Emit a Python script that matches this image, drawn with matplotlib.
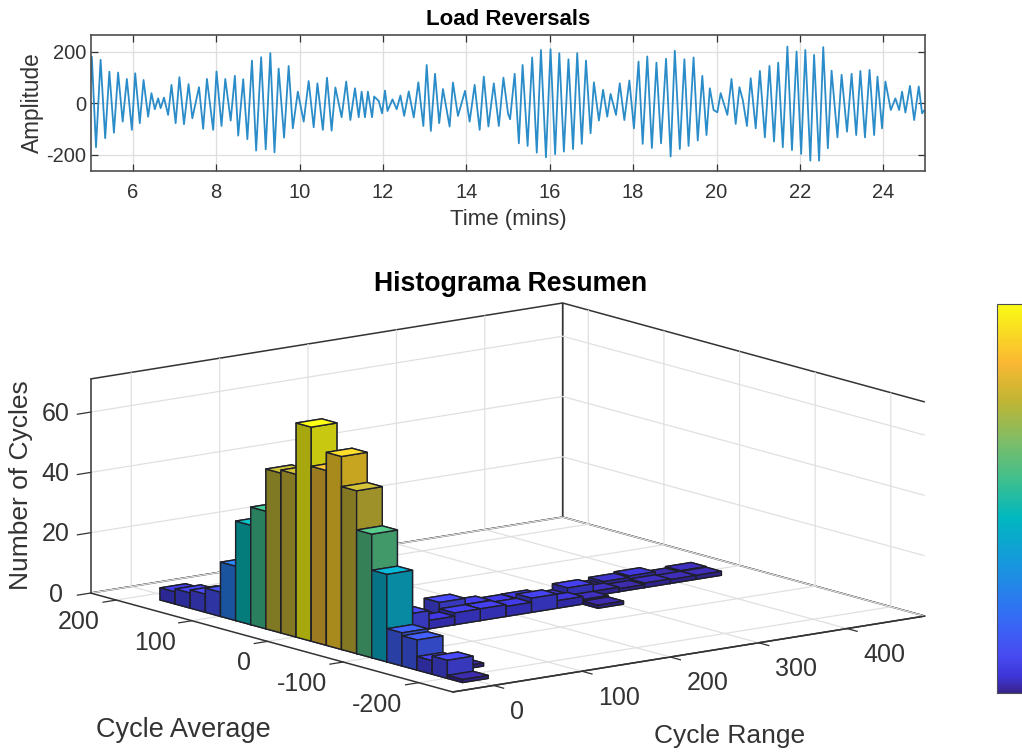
import numpy as np
import matplotlib
matplotlib.use('Agg')
import matplotlib.pyplot as plt
from matplotlib.colors import LinearSegmentedColormap, Normalize
from matplotlib.cm import ScalarMappable

plt.rcParams['font.family'] = ['Liberation Sans', 'DejaVu Sans']
plt.rcParams['axes.unicode_minus'] = False

# ---- Load reversals (turning points) ----
time_mins = [5.00,5.02,5.12,5.23,5.34,5.44,5.55,5.65,5.76,5.86,5.98,6.06,6.17,6.26,6.37,6.45,6.53,6.61,6.67,6.75,
 6.85,6.93,7.03,7.12,7.23,7.34,7.43,7.59,7.69,7.78,7.93,8.01,8.13,8.22,8.35,8.45,8.53,8.65,8.75,8.86,
 8.96,9.08,9.19,9.30,9.40,9.50,9.63,9.74,9.84,9.96,10.10,10.22,10.34,10.43,10.56,10.66,10.77,10.86,11.01,11.12,
 11.22,11.33,11.42,11.49,11.57,11.64,11.74,11.79,11.90,11.98,12.05,12.11,12.23,12.33,12.42,12.51,12.62,12.74,12.85,12.97,
 13.05,13.15,13.25,13.35,13.44,13.60,13.68,13.80,13.97,14.08,14.20,14.32,14.42,14.53,14.66,14.78,14.89,15.00,15.05,15.16,
 15.26,15.35,15.47,15.58,15.69,15.79,15.91,16.02,16.13,16.23,16.34,16.45,16.56,16.66,16.77,16.87,16.98,17.06,17.18,17.28,
 17.38,17.46,17.59,17.68,17.79,17.91,18.02,18.13,18.23,18.34,18.45,18.56,18.67,18.79,18.90,19.00,19.12,19.23,19.33,19.45,
 19.55,19.66,19.76,19.84,19.93,20.02,20.10,20.26,20.36,20.46,20.55,20.63,20.73,20.82,20.94,21.04,21.16,21.27,21.38,21.48,
 21.59,21.70,21.81,21.92,22.03,22.13,22.25,22.34,22.46,22.56,22.67,22.76,22.90,23.00,23.13,23.24,23.35,23.45,23.56,23.67,
 23.78,23.86,23.97,24.05,24.18,24.29,24.38,24.45,24.53,24.64,24.74,24.85,24.93,24.98]
amplitude = [90,180,-170,168,-135,122,-114,119,-71,94,-103,116,-77,90,-52,39,-23,19,-19,22,
 -45,71,-77,101,-81,74,-58,62,-99,94,-103,123,-88,94,-67,106,-125,93,-139,165,
 -183,178,-178,194,-190,134,-133,144,-97,45,-71,86,-93,77,-103,99,-106,61,-54,84,
 -65,58,-54,45,-54,45,-54,26,9,-39,49,-30,15,-23,30,-49,46,-55,81,-88,
 148,-107,114,-77,55,-90,80,-49,48,-71,71,-103,103,-90,77,-88,99,-39,-62,114,
 -155,148,-165,177,-191,206,-209,209,-197,194,-187,170,-177,194,-157,165,-116,81,-67,52,
 -52,36,-45,77,-65,88,-97,161,-157,181,-173,157,-155,172,-206,203,-177,170,-165,177,
 -144,106,-123,58,-26,-35,39,-45,94,-80,62,13,-88,97,-97,125,-132,144,-148,157,
 -170,219,-181,200,-196,206,-222,187,-222,217,-174,126,-132,110,-110,114,-123,125,-132,129,
 -123,103,-97,84,-26,19,-26,45,-36,67,-65,65,-39,-28]
time_ticks = [6,8,10,12,14,16,18,20,22,24]
amp_ticks = [-200,0,200]

# ---- Rainflow histogram bins ----
main_avg = [169,149,129,109,89,69,49,29,9,-11,-31,-51,-71,-91,-111,-131,-151,-171,-191,-211]
main_range = [0]*20
main_count = [4,5,6,8,18,33,39,53,54,71,58,64,54,41,29,11,10,4.5,6,1]

row_b_range = [116,145,174,203,232,261,290,319,348,377,406,435]
row_b_avg = [-11]*12
row_b_count = [2,6,4,3.2,3.3,2,4,1.5,1,1.5,1.3,1.3]

row_a_range = [87,116,145,174,203,232,261,290]
row_a_avg = [-31]*8
row_a_count = [6,2.8,3.9,3.9,3.3,4.7,2.5,1.5]

row_c_range = [319,348,377,406,435]
row_c_avg = [9]*5
row_c_count = [1,2,2.5,1,1.5]

extra_range = [29,290]
extra_avg = [-171,-51]
extra_count = [1,1]

range_ticks = [0,100,200,300,400]
avg_ticks = [-200,-100,0,100,200]
count_ticks = [0,20,40,60]
range_lim = (-46, 488)
avg_lim = (-245, 234)
count_lim = (0, 71)

parula_like = LinearSegmentedColormap.from_list('parula_like', [
    (0.00,(0.22,0.14,0.55)),(0.04,(0.24,0.21,0.84)),(0.10,(0.28,0.30,0.95)),(0.20,(0.20,0.43,0.96)),
    (0.32,(0.10,0.58,0.88)),(0.45,(0.00,0.72,0.75)),(0.55,(0.25,0.75,0.55)),
    (0.65,(0.50,0.74,0.40)),(0.75,(0.75,0.71,0.20)),(0.85,(0.98,0.72,0.20)),
    (1.00,(0.98,0.98,0.08))])

W, H = 1022, 753
INK = (0.2, 0.2, 0.2)
fig = plt.figure(figsize=(W/100, H/100), dpi=100, facecolor='white')

def frac(l, t, r, b):
    return [l/W, 1-b/H, (r-l)/W, (b-t)/H]

# ---- 3-D histogram ----
side = 844
ax3 = fig.add_axes([74.3/W, -177.9/H, side/W, side/H], projection='3d', proj_type='ortho', computed_zorder=False)
ax3.set_facecolor('none')
ax3.view_init(elev=12.1, azim=-127.5)
ax3.set_box_aspect((595, 595, 219))
ax3.plot([range_lim[1]]*2, [avg_lim[0]]*2, count_lim, color=(0.2, 0.2, 0.2), lw=1.1, zorder=1)
ax3.set_xlim(*range_lim)
ax3.set_ylim(*avg_lim)
ax3.set_zlim(*count_lim)
ax3.set_xticks(range_ticks)
ax3.set_yticks(avg_ticks)
ax3.set_zticks(count_ticks)
for axis in (ax3.xaxis, ax3.yaxis, ax3.zaxis):
    axis.set_pane_color((1, 1, 1, 1))
    axis.pane.set_edgecolor((0.2, 0.2, 0.2))
    axis.pane.set_linewidth(1.1)
    axis.line.set_color((0.2, 0.2, 0.2))
    axis.line.set_linewidth(1.1)
    axis._axinfo['grid'].update(color=(0.88, 0.88, 0.88), linewidth=0.9)
    axis._axinfo['tick'].update(inward_factor=0.35, outward_factor=0.0, linewidth={True: 0.9, False: 0.9})
ax3.tick_params(axis='both', labelsize=18, labelcolor=INK, colors=INK)
ax3.tick_params(axis='z', labelsize=18, labelcolor=INK, colors=INK)
ax3.tick_params(axis='x', pad=6.5)
ax3.tick_params(axis='y', pad=3)
ax3.tick_params(axis='z', pad=5.3)
for lab in ax3.get_xticklabels():
    lab.set_ha('left')
for lab in ax3.get_yticklabels():
    lab.set_ha('right')
for lab in ax3.get_zticklabels():
    lab.set_va('center_baseline')

all_range = np.array(main_range + row_b_range + row_a_range + row_c_range + extra_range)
all_avg = np.array(main_avg + row_b_avg + row_a_avg + row_c_avg + extra_avg)
all_count = np.array(main_count + row_b_count + row_a_count + row_c_count + extra_count)
dx, dy = 29, 20
norm = Normalize(*count_lim)
view = np.array([-0.609, -0.793])
order = np.argsort(all_range*view[0] + all_avg*view[1])
for k, i in enumerate(order):
    c = np.array(parula_like(norm(all_count[i])))[:3]
    shades = [0.6, 1.08, 0.8, 0.6, 0.67, 0.6]  # -z,+z,-y,+y,-x,+x
    faces = [tuple(np.clip(c*s, 0, 1)) + (1,) for s in shades]
    ax3.bar3d(all_range[i]-dx/2, all_avg[i]-dy/2, 0, dx, dy, all_count[i], color=faces,
              shade=False, edgecolor=(0.12, 0.12, 0.16), linewidth=1.0, zorder=5+k)

# ---- labels and title of the histogram ----
fig.text(511/W, 1-284/H, 'Histograma Resumen', ha='center', va='center', fontsize=19.2, fontweight='bold', color='black')
fig.text(183/W, 1-730/H, 'Cycle Average', ha='center', va='center', fontsize=19.5, color=INK)
fig.text(730/W, 1-736/H, 'Cycle Range', ha='center', va='center', fontsize=19, color=INK)
fig.text(21/W, 1-485/H, 'Number of Cycles', ha='center', va='center', rotation=90, fontsize=19, color=INK)

# ---- top line plot ----
ax = fig.add_axes(frac(91, 35, 925, 171))
ax.plot(time_mins, amplitude, color='#2a8cc8', lw=1.3)
ax.set_xlim(5, 25)
ax.set_ylim(-262, 264)
ax.set_xticks(time_ticks)
ax.set_yticks(amp_ticks)
ax.grid(True, color=(0.87, 0.87, 0.87), lw=0.9)
ax.set_axisbelow(True)
ax.tick_params(direction='in', top=True, right=True, length=5, width=0.9, color=INK, labelcolor=INK, labelsize=14.5)
ax.tick_params(axis='x', pad=9)
for s in ax.spines.values():
    s.set_color((0.3, 0.3, 0.3))
    s.set_linewidth(1.2)
ax.set_title('Load Reversals', fontsize=16, fontweight='bold', pad=7, color='black')
ax.set_xlabel('Time (mins)', fontsize=16, color=INK, labelpad=5)
ax.set_ylabel('Amplitude', fontsize=16.3, color=INK, labelpad=1.5)

# ---- colour bar, cut by the figure's right edge ----
cax = fig.add_axes(frac(997, 304, 1050, 693))
cb = fig.colorbar(ScalarMappable(norm=norm, cmap=parula_like), cax=cax, ticks=[])
cb.outline.set_edgecolor((0.3, 0.3, 0.35))

fig.savefig('out.png', dpi=100)
